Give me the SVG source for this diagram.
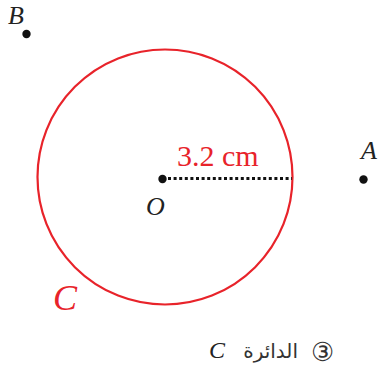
<svg xmlns="http://www.w3.org/2000/svg" width="380" height="372" viewBox="0 0 380 372">
<style>
.lbl{font-family:'Liberation Serif',serif;font-style:italic;font-size:26px;fill:#222}
.cal{font-family:'Liberation Serif',serif;font-style:italic}
.red{fill:#e8232a}
.pt{fill:#111}
.num{font-family:'Liberation Serif',serif;font-size:30px}
.cap{font-family:'DejaVu Sans',sans-serif;fill:#333}
</style>
<rect width="380" height="372" fill="#fff"/>
<g id="circle">
<circle cx="165" cy="177" r="127.5" fill="none" stroke="#e8232a" stroke-width="2.2"/>
<text x="53" y="310" class="cal red" font-size="36">C</text>
</g>
<g id="connectors">
<line x1="168" y1="178.5" x2="292" y2="178.5" stroke="#111" stroke-width="3" stroke-dasharray="3,2.6"/>
</g>
<g id="O">
<circle cx="162.5" cy="179" r="4.2" class="pt"/>
<text x="146" y="215" class="lbl">O</text>
</g>
<g id="radius-label">
<text x="177" y="166" class="num red">3.2 cm</text>
</g>
<g id="A">
<circle cx="363.5" cy="179.5" r="4.2" class="pt"/>
<text x="361" y="159" class="lbl" font-size="24">A</text>
</g>
<g id="B">
<circle cx="26.5" cy="34" r="4.2" class="pt"/>
<text x="8" y="24" class="lbl">B</text>
</g>
<g id="caption">
<text x="209" y="358" class="cal" font-size="24" fill="#222">C</text>
<text x="298" y="358" class="cap" font-size="20" text-anchor="end">الدائرة</text>
<text x="311" y="361" class="cap" font-size="26">③</text>
</g>
</svg>
